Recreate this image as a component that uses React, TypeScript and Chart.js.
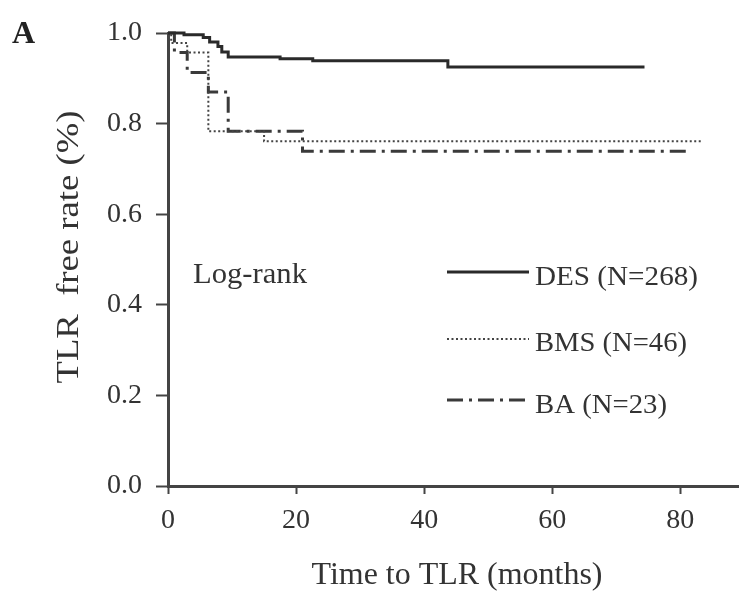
import React, { useEffect, useRef } from "react";
import { Chart, registerables } from "chart.js";

Chart.register(...registerables);

// ---- Data ----
const desTimes = [0, 2.5, 5.5, 6.5, 7.8, 8.4, 9.4, 17.5, 22.6, 43.7, 74.4];
const desSurv = [1, 0.996, 0.99, 0.98, 0.97, 0.958, 0.947, 0.943, 0.939, 0.925, 0.925];

const bmsTimes = [0, 0.5, 3, 6.3, 15, 83.3];
const bmsSurv = [1, 0.978, 0.957, 0.783, 0.761, 0.761];

const baTimes = [0, 1, 3, 6.3, 9.4, 21, 81];
const baSurv = [1, 0.957, 0.913, 0.87, 0.783, 0.739, 0.739];

const xTicks = [0, 20, 40, 60, 80];
const yTicks = [0, 0.2, 0.4, 0.6, 0.8, 1.0];
const legendLabels = ["DES (N=268)", "BMS (N=46)", "BA (N=23)"];
const xTitle = "Time to TLR (months)";
const yTitle = "TLR  free rate (%)";
const panelLabel = "A";
const testLabel = "Log-rank";

const INK = "#333333";
const SERIF = "'Liberation Serif', 'Times New Roman', serif";

function toPoints(t: number[], s: number[]) {
  return t.map((x, i) => ({ x, y: s[i] }));
}

function fitText(
  ctx: CanvasRenderingContext2D,
  text: string,
  x: number,
  y: number,
  width: number,
  font: string,
  align: "left" | "center"
) {
  ctx.save();
  ctx.font = font;
  const w = ctx.measureText(text).width;
  const k = width / w;
  ctx.translate(x, y);
  ctx.scale(k, 1);
  ctx.textAlign = align;
  ctx.textBaseline = "alphabetic";
  ctx.fillStyle = INK;
  ctx.fillText(text, 0, 0);
  ctx.restore();
}

const annotPlugin = {
  id: "annot",
  afterDraw(chart: any) {
    const ctx: CanvasRenderingContext2D = chart.ctx;
    ctx.save();
    ctx.font = `bold 32px ${SERIF}`;
    ctx.fillStyle = "#222";
    ctx.textAlign = "left";
    ctx.textBaseline = "alphabetic";
    ctx.fillText(panelLabel, 12, 43);
    ctx.restore();

    ctx.save();
    ctx.translate(78, 247);
    ctx.rotate(-Math.PI / 2);
    fitText(ctx, yTitle, 0, 0, 273, `32px ${SERIF}`, "center");
    ctx.restore();

    fitText(ctx, xTitle, 457, 584, 291, `32px ${SERIF}`, "center");

    fitText(ctx, testLabel, 193, 283, 114, `29px ${SERIF}`, "left");

    const lineY = [272, 339, 400];
    const textY = [285, 351, 413];
    const textW = [163, 152, 132];
    chart.data.datasets.forEach((ds: any, i: number) => {
      ctx.save();
      ctx.strokeStyle = ds.borderColor;
      ctx.lineWidth = ds.borderWidth;
      ctx.setLineDash(ds.borderDash || []);
      ctx.beginPath();
      ctx.moveTo(447, lineY[i]);
      ctx.lineTo(529, lineY[i]);
      ctx.stroke();
      ctx.restore();
      fitText(ctx, legendLabels[i], 535, textY[i], textW[i], `28px ${SERIF}`, "left");
    });
  },
};

export default function App() {
  const ref = useRef<HTMLCanvasElement | null>(null);

  useEffect(() => {
    if (!ref.current) return;
    const chart = new Chart(ref.current, {
      type: "line",
      data: {
        datasets: [
          {
            label: legendLabels[0],
            data: toPoints(desTimes, desSurv),
            borderColor: "#2a2a2a",
            borderWidth: 3,
            borderDash: [],
            stepped: true,
            pointRadius: 0,
            fill: false,
            clip: false,
          } as any,
          {
            label: legendLabels[1],
            data: toPoints(bmsTimes, bmsSurv),
            borderColor: "#444444",
            borderWidth: 2,
            borderDash: [2, 2.5],
            stepped: true,
            pointRadius: 0,
            fill: false,
            clip: false,
          } as any,
          {
            label: legendLabels[2],
            data: toPoints(baTimes, baSurv),
            borderColor: "#3a3a3a",
            borderWidth: 3,
            borderDash: [16, 6, 3, 6],
            stepped: true,
            pointRadius: 0,
            fill: false,
            clip: false,
          } as any,
        ],
      },
      options: {
        responsive: false,
        animation: false,
        devicePixelRatio: 1,
        layout: { padding: { top: 33, right: 2, left: 0, bottom: 0 } },
        plugins: {
          legend: { display: false },
          tooltip: { enabled: false },
          title: { display: false },
        },
        scales: {
          x: {
            type: "linear",
            min: 0,
            max: 89,
            afterBuildTicks: (scale: any) => {
              scale.ticks = xTicks.map((v) => ({ value: v }));
            },
            afterFit: (scale: any) => {
              scale.height = 109;
            },
            ticks: {
              font: { family: SERIF, size: 28 },
              color: INK,
              padding: 10,
              maxRotation: 0,
              callback: (v: any) => String(v),
            },
            grid: {
              drawOnChartArea: false,
              drawTicks: true,
              tickLength: 8,
              tickWidth: 2,
              tickColor: "#444",
            },
            border: { display: true, color: "#444", width: 3 },
          },
          y: {
            type: "linear",
            min: 0,
            max: 1,
            afterBuildTicks: (scale: any) => {
              scale.ticks = yTicks.map((v) => ({ value: v }));
            },
            afterFit: (scale: any) => {
              scale.width = 168;
            },
            ticks: {
              font: { family: SERIF, size: 28 },
              color: INK,
              padding: 14,
              callback: (v: any) => Number(v).toFixed(1),
            },
            grid: {
              drawOnChartArea: false,
              drawTicks: true,
              tickLength: 12,
              tickWidth: 2,
              tickColor: "#444",
            },
            border: { display: true, color: "#444", width: 3 },
          },
        },
      } as any,
      plugins: [annotPlugin],
    });
    return () => chart.destroy();
  }, []);

  return (
    <div style={{ position: "absolute", left: 0, top: 0, width: 740, height: 595, background: "#fff" }}>
      <canvas ref={ref} width={740} height={595} style={{ display: "block", width: 740, height: 595 }} />
    </div>
  );
}
